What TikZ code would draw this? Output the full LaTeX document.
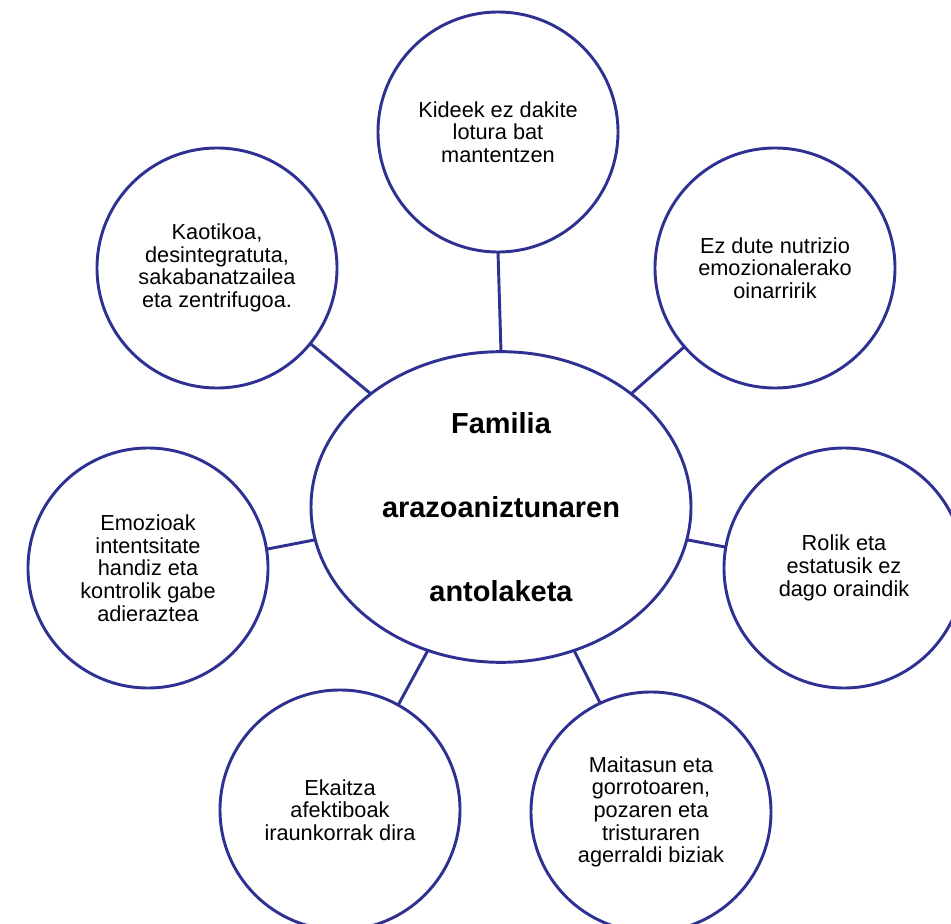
\documentclass[tikz,border=0pt]{standalone}
\usepackage{fontspec}
\setmainfont{Liberation Sans}
\usetikzlibrary{shapes.geometric}
\definecolor{navy}{RGB}{46,49,146}
\begin{document}
\begin{tikzpicture}[x=0.75pt,y=-0.75pt,
  bubble/.style={circle,draw=navy,line width=2.2pt,minimum size=180pt,inner sep=0pt,outer sep=0pt,align=center,text=black,font=\fontsize{16.3}{17}\selectfont},
  hub/.style={ellipse,draw=navy,line width=2.2pt,minimum width=285pt,minimum height=233pt,inner sep=0pt,outer sep=0pt,align=center,text=black,font=\bfseries\fontsize{21.7}{63}\selectfont},
  link/.style={draw=navy,line width=2.2pt}]
\clip (0,0) rectangle (951,924);
\fill[white] (0,0) rectangle (951,924);

\node[hub] (hub) at (501,507) {Familia\\arazoaniztunaren\\antolaketa};

\node[bubble] (top) at (498,132) {Kideek ez dakite\\lotura bat\\mantentzen};
\node[bubble] (tl) at (217,268) {Kaotikoa,\\desintegratuta,\\sakabanatzailea\\eta zentrifugoa.};
\node[bubble] (tr) at (775,268) {Ez dute nutrizio\\emozionalerako\\oinarririk};
\node[bubble] (lf) at (148,568) {Emozioak\\intentsitate\\handiz eta\\kontrolik gabe\\adieraztea};
\node[bubble] (rt) at (844,568) {Rolik eta\\estatusik ez\\dago oraindik};
\node[bubble] (bl) at (340,810) {Ekaitza\\afektiboak\\iraunkorrak dira};
\node[bubble] (br) at (651,812) {Maitasun eta\\gorrotoaren,\\pozaren eta\\tristuraren\\agerraldi biziak};

\draw[link] (top.south) -- (hub.north);
\draw[link] (tl.-39.6) -- (hub.139);
\draw[link] (tr.221) -- (hub.41);
\draw[link] (lf.9.9) -- (hub.190.2);
\draw[link] (rt.170) -- (hub.-10);
\draw[link] (bl.61.5) -- (hub.-117.4);
\draw[link] (br.115.7) -- (hub.-63.6);
\end{tikzpicture}
\end{document}
